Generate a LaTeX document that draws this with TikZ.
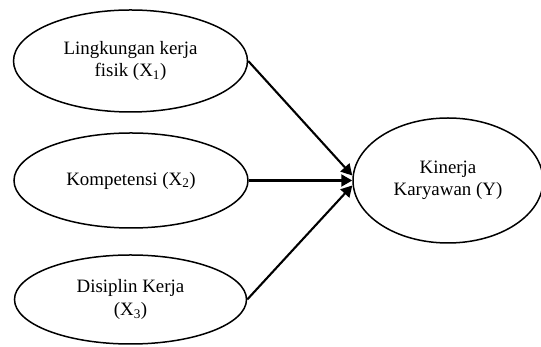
\documentclass[tikz,border=0pt]{standalone}
\usepackage{fontspec}
\setmainfont{Liberation Serif}
\usetikzlibrary{shapes.geometric,arrows.meta}
\begin{document}
\begin{tikzpicture}[x=1pt,y=1pt,
  oval/.style={draw,ellipse,line width=1.5pt,inner sep=0pt,align=center,
    font=\fontsize{18.9}{21.5}\selectfont},
  link/.style={line width=2.1pt,-{Triangle[length=11pt,width=12pt]}}]
\useasboundingbox (0,0) rectangle (541,347);
\node[oval,minimum width=234pt,minimum height=102pt] (e1) at (130.5,286) {Lingkungan kerja\\fisik (X\textsubscript{1})};
\node[oval,minimum width=234pt,minimum height=95pt] (e2) at (131,166.5) {Kompetensi (X\textsubscript{2})};
\node[oval,minimum width=232pt,minimum height=89pt] (e3) at (130.5,47.5) {Disiplin Kerja\\[2pt](X\textsubscript{3})};
\node[oval,minimum width=190pt,minimum height=125pt] (y) at (448,166.5) {Kinerja\\Karyawan (Y)};
\draw[link] (e1.east) -- ([yshift=5pt]y.west);
\draw[link] (e2.east) -- (y.west);
\draw[link] (e3.east) -- ([yshift=-5pt]y.west);
\end{tikzpicture}
\end{document}
